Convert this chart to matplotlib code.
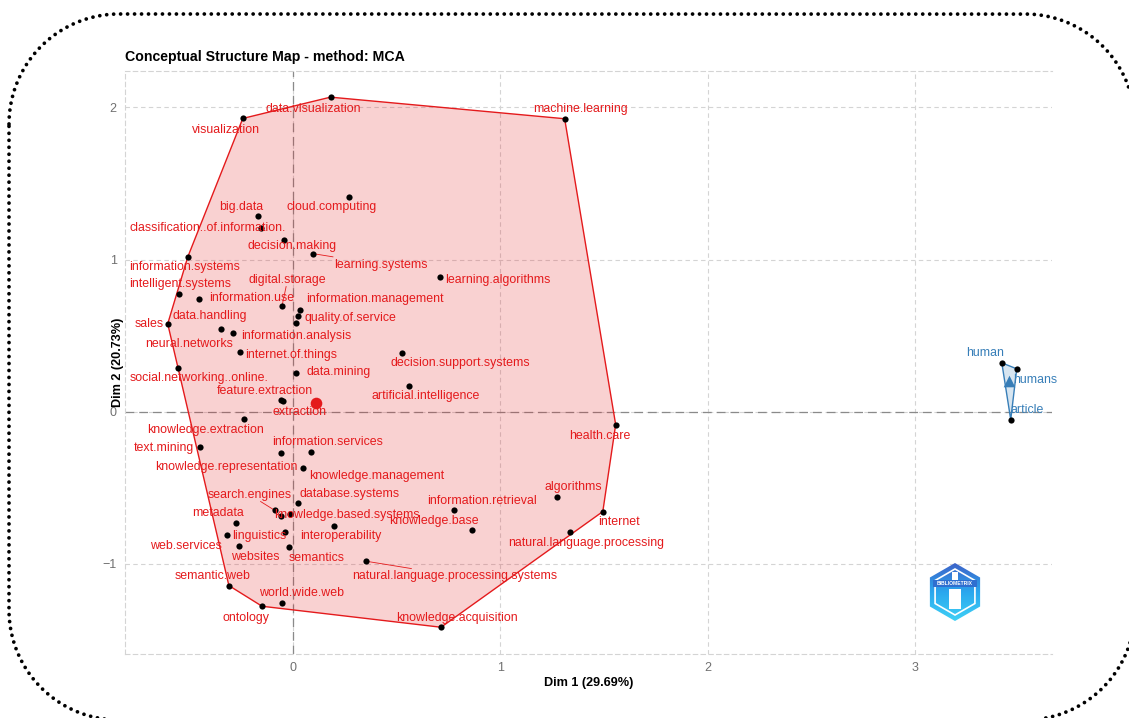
import numpy as np
import matplotlib
matplotlib.use("Agg")
import matplotlib.pyplot as plt
from matplotlib.patches import Polygon, RegularPolygon
from matplotlib.colors import LinearSegmentedColormap

plt.rcParams['font.family'] = ['Liberation Sans', 'DejaVu Sans']

# word coordinates on the first two MCA dimensions
words = [
    "data.visualization", "machine.learning", "visualization", "cloud.computing",
    "big.data", "classification..of.information.", "decision.making", "learning.systems",
    "information.systems", "learning.algorithms", "intelligent.systems", "information.use",
    "digital.storage", "information.management", "quality.of.service", "information.analysis",
    "sales", "data.handling", "neural.networks", "internet.of.things",
    "social.networking..online.", "data.mining", "feature.extraction", "extraction",
    "decision.support.systems", "artificial.intelligence", "health.care", "knowledge.extraction",
    "text.mining", "knowledge.representation", "information.services", "knowledge.management",
    "database.systems", "search.engines", "knowledge.based.systems", "",
    "interoperability", "metadata", "linguistics", "web.services",
    "websites", "semantics", "natural.language.processing.systems", "semantic.web",
    "world.wide.web", "ontology", "knowledge.acquisition", "natural.language.processing",
    "internet", "algorithms", "information.retrieval", "knowledge.base",
    "human", "humans", "article",
]
dim1 = [
    0.181, 1.310, -0.242, 0.268,
    -0.170, -0.154, -0.042, 0.095,
    -0.507, 0.708, -0.549, -0.451,
    -0.053, 0.034, 0.023, 0.015,
    -0.604, -0.346, -0.287, -0.255,
    -0.554, 0.015, -0.057, -0.047,
    0.527, 0.561, 1.556, -0.234,
    -0.446, -0.057, 0.087, 0.047,
    0.023, -0.087, -0.013, -0.057,
    0.197, -0.275, -0.040, -0.318,
    -0.259, -0.021, 0.354, -0.309,
    -0.053, -0.149, 0.714, 1.334,
    1.494, 1.271, 0.776, 0.864,
    3.418, 3.490, 3.461,
]
dim2 = [
    2.068, 1.926, 1.928, 1.414,
    1.283, 1.206, 1.129, 1.039,
    1.018, 0.886, 0.774, 0.737,
    0.693, 0.671, 0.627, 0.581,
    0.577, 0.544, 0.518, 0.390,
    0.289, 0.252, 0.077, 0.071,
    0.388, 0.171, -0.086, -0.048,
    -0.235, -0.272, -0.265, -0.373,
    -0.603, -0.651, -0.671, -0.686,
    -0.750, -0.730, -0.794, -0.811,
    -0.882, -0.888, -0.985, -1.145,
    -1.261, -1.281, -1.419, -0.794,
    -0.658, -0.561, -0.645, -0.781,
    0.320, 0.281, -0.053,
]
cluster = [1] * 52 + [2] * 3

# repelled label positions
label_x = [
    0.100, 1.388, -0.321, 0.188,
    -0.249, -0.411, -0.003, 0.423,
    -0.522, 0.989, -0.543, -0.200,
    -0.026, 0.394, 0.276, 0.015,
    -0.693, -0.402, -0.503, -0.007,
    -0.454, 0.220, -0.136, 0.031,
    0.809, 0.640, 1.478, -0.422,
    -0.624, -0.321, 0.165, 0.402,
    0.275, -0.210, 0.262, 0.0,
    0.231, -0.362, -0.165, -0.514,
    -0.181, 0.115, 0.779, -0.388,
    0.040, -0.228, 0.790, 1.412,
    1.572, 1.354, 0.911, 0.682,
    3.339, 3.577, 3.539,
]
label_y = [
    1.990, 1.989, 1.855, 1.344,
    1.347, 1.206, 1.088, 0.967,
    0.952, 0.868, 0.836, 0.748,
    0.868, 0.741, 0.618, 0.500,
    0.577, 0.627, 0.443, 0.375,
    0.219, 0.257, 0.136, -0.004,
    0.318, 0.099, -0.158, -0.123,
    -0.243, -0.366, -0.202, -0.421,
    -0.541, -0.546, -0.678, 0.0,
    -0.822, -0.669, -0.820, -0.882,
    -0.956, -0.961, -1.079, -1.079,
    -1.197, -1.355, -1.355, -0.866,
    -0.726, -0.496, -0.586, -0.719,
    0.382, 0.206, 0.013,
]
linked = ["learning.systems", "digital.storage", "search.engines",
          "natural.language.processing.systems"]

centroid_x = [0.111, 3.455]
centroid_y = [0.057, 0.199]
centroid_marker = ["o", "^"]
colors = ["#E41A1C", "#377EB8"]


def convex_hull(pts):
    pts = sorted(set(map(tuple, pts)))
    if len(pts) < 3:
        return pts

    def cross(o, a, b):
        return (a[0] - o[0]) * (b[1] - o[1]) - (a[1] - o[1]) * (b[0] - o[0])

    lower, upper = [], []
    for p in pts:
        while len(lower) >= 2 and cross(lower[-2], lower[-1], p) <= 0:
            lower.pop()
        lower.append(p)
    for p in reversed(pts):
        while len(upper) >= 2 and cross(upper[-2], upper[-1], p) <= 0:
            upper.pop()
        upper.append(p)
    return lower[:-1] + upper[:-1]


def rounded_rect(x0, y0, x1, y1, r, n=40):
    # corners: top-left, top-right, bottom-right, bottom-left (y grows downward)
    corners = [(x0 + r, y0 + r, np.pi, 1.5 * np.pi),
               (x1 - r, y0 + r, 1.5 * np.pi, 2 * np.pi),
               (x1 - r, y1 - r, 0, 0.5 * np.pi),
               (x0 + r, y1 - r, 0.5 * np.pi, np.pi)]
    xs, ys = [], []
    for cx, cy, a0, a1 in corners:
        a = np.linspace(a0, a1, n)
        xs.extend(cx + r * np.cos(a))
        ys.extend(cy + r * np.sin(a))
    xs.append(xs[0])
    ys.append(ys[0])
    return xs, ys


W, H = 1129, 718
fig = plt.figure(figsize=(W / 100, H / 100), dpi=100)
ax = fig.add_axes([125 / W, 1 - 654 / H, (1052 - 125) / W, (654 - 71) / H])

x = np.array(dim1)
y = np.array(dim2)
cl = np.array(cluster)

# cluster hulls
for k, col in zip([1, 2], colors):
    m = cl == k
    hull = convex_hull(np.column_stack([x[m], y[m]]))
    ax.add_patch(Polygon(hull, closed=True, facecolor=col, alpha=0.2,
                         edgecolor="none", zorder=2))
    ax.add_patch(Polygon(hull, closed=True, facecolor="none",
                         edgecolor=col, lw=1.0, zorder=3))

ax.scatter(x, y, s=20, color="black", zorder=5, linewidths=0)

for k, col in enumerate(colors):
    ax.scatter([centroid_x[k]], [centroid_y[k]], s=70, marker=centroid_marker[k],
               color=col, zorder=6, linewidths=0)

texts = []
for w, px, py, lx, ly, k in zip(words, dim1, dim2, label_x, label_y, cluster):
    if not w:
        continue
    t = ax.text(lx, ly, w, ha="center", va="center", fontsize=8.9,
                color=colors[k - 1], zorder=7)
    texts.append((w, px, py, t))

# axes, grid and zero lines
ax.set_xlim(-0.81, 3.66)
ax.set_ylim(-1.595, 2.24)
ax.set_xticks([0, 1, 2, 3])
ax.set_yticks([-1, 0, 1, 2])
ax.grid(True, color="#d4d4d4", linestyle=(0, (4, 3)), linewidth=0.8)
ax.set_axisbelow(True)
ax.axhline(0, color="#8a8a8a", linestyle=(0, (7, 4)), linewidth=0.9, zorder=1.5)
ax.axvline(0, color="#8a8a8a", linestyle=(0, (7, 4)), linewidth=0.9, zorder=1.5)
for side in ["top", "left", "bottom"]:
    ax.spines[side].set_color("#d4d4d4")
    ax.spines[side].set_linestyle((0, (4, 3)))
    ax.spines[side].set_linewidth(0.8)
ax.spines["right"].set_visible(False)
ax.tick_params(length=0, labelsize=9, labelcolor="#707070", pad=6)
ax.set_xlabel("Dim 1 (29.69%)", fontsize=9.1, fontweight="bold", labelpad=2)
ax.set_ylabel("Dim 2 (20.73%)", fontsize=9.1, fontweight="bold")
ax.yaxis.set_label_coords(-0.001, 0.5)
ax.set_title("Conceptual Structure Map - method: MCA", loc="left",
             fontsize=10.2, fontweight="bold", pad=7)

# leader segments from points to their label boxes
fig.canvas.draw()
inv = ax.transData.inverted()
for w, px, py, t in texts:
    if w not in linked:
        continue
    bb = t.get_window_extent().padded(1)
    p0 = ax.transData.transform((px, py))
    c = np.array([(bb.x0 + bb.x1) / 2, (bb.y0 + bb.y1) / 2])
    d = c - p0
    s = 1.0
    for lo, hi, dd, pp in [(bb.x0, bb.x1, d[0], p0[0]), (bb.y0, bb.y1, d[1], p0[1])]:
        if dd > 0 and lo > pp:
            s = min(s, (lo - pp) / dd)
        elif dd < 0 and hi < pp:
            s = min(s, (hi - pp) / dd)
    end = inv.transform(p0 + d * max(s, 0))
    ax.plot([px, end[0]], [py, end[1]], color=colors[0], lw=0.6, zorder=4)

# overlay in pixel units for the frame and the logo
ov = fig.add_axes([0, 0, 1, 1], facecolor="none")
fx, fy = rounded_rect(9, 14, 1135, 720, 110)
ov.plot(fx, fy, color="black", lw=2.7, linestyle=(0, (0.01, 1.85)),
        dash_capstyle="round", clip_on=False)

cx, cy = 955, 592
grad = np.linspace(0, 1, 64).reshape(-1, 1)
img = ov.imshow(grad, extent=(cx - 28, cx + 28, cy + 29, cy - 29),
                cmap=LinearSegmentedColormap.from_list(
                    "logo", ["#3d63c9", "#2aa7ee", "#3fd0f5"]),
                aspect="auto", zorder=3)
hexa = RegularPolygon((cx, cy), 6, radius=29, orientation=0,
                      facecolor="none", edgecolor="none")
ov.add_patch(hexa)
img.set_clip_path(hexa)
ov.add_patch(RegularPolygon((cx, cy), 6, radius=23, orientation=0,
                            facecolor="none", edgecolor="white", lw=1.2, zorder=4))
ov.add_patch(plt.Rectangle((cx - 22, cy - 12), 44, 7, facecolor="#2f6fd0",
                           edgecolor="none", zorder=4))
ov.text(cx, cy - 8.5, "BIBLIOMETRIX", fontsize=3.6, fontweight="bold", color="white",
        ha="center", va="center", zorder=5)
ov.add_patch(plt.Rectangle((cx - 6, cy - 3), 12, 20, facecolor="white",
                           edgecolor="none", zorder=4))
ov.add_patch(plt.Rectangle((cx - 3, cy - 20), 6, 8, facecolor="white",
                           edgecolor="none", zorder=4))
ov.set_xlim(0, W)
ov.set_ylim(H, 0)
ov.axis("off")

fig.savefig("out.png", dpi=100)
